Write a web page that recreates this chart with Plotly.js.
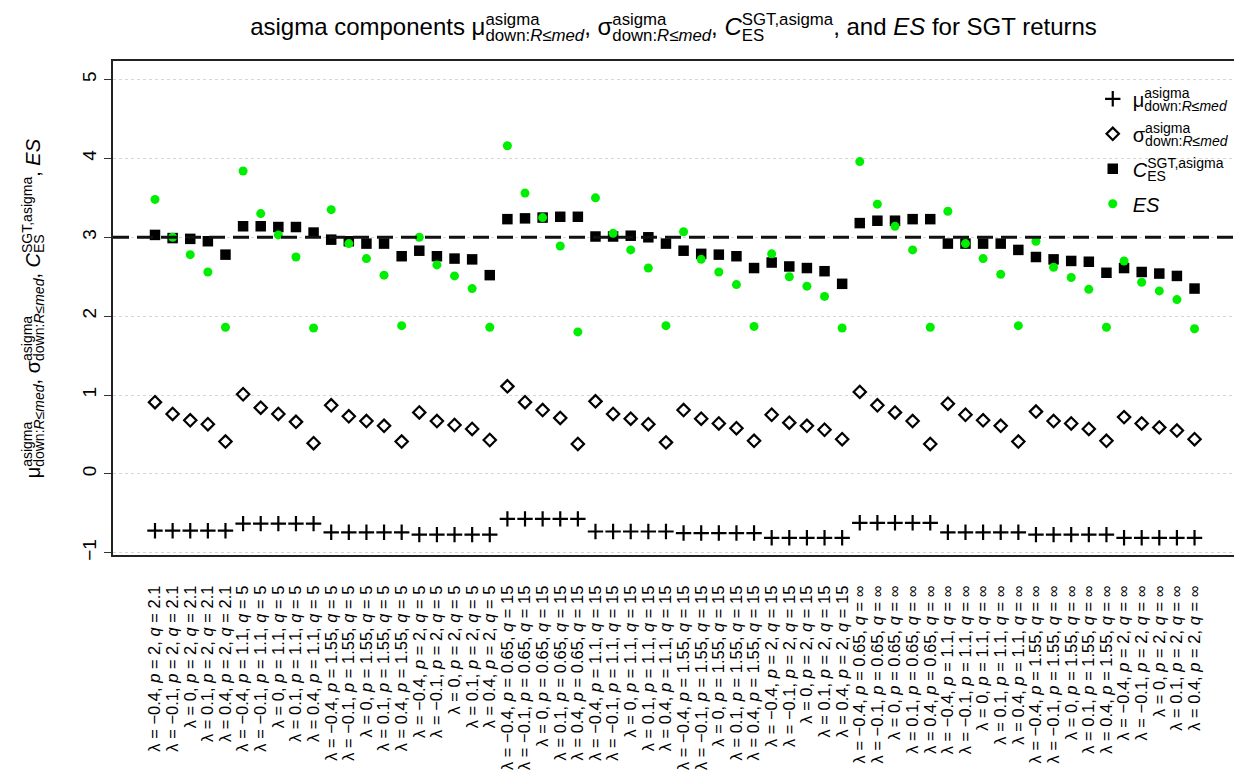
<!DOCTYPE html>
<html><head><meta charset="utf-8">
<script src="https://cdn.plot.ly/plotly-3.0.1.min.js"></script>
<style>html,body{margin:0;padding:0;background:#fff}</style>
</head><body>
<div id="chart" style="width:1234px;height:774px"></div>
<script>
// ---- data ----
const lambda_labels = ['\u22120.4', '\u22120.1', '0', '0.1', '0.4'];
const p_labels = ['2', '1.1', '1.55', '2', '0.65', '1.1', '1.55', '2', '0.65', '1.1', '1.55', '2'];
const q_labels = ['2.1', '5', '5', '5', '15', '15', '15', '15', '\u221e', '\u221e', '\u221e', '\u221e'];

const mu_down = [
  -0.72, -0.72, -0.72, -0.72, -0.72,
  -0.63, -0.63, -0.63, -0.63, -0.63,
  -0.74, -0.74, -0.74, -0.74, -0.74,
  -0.77, -0.77, -0.77, -0.77, -0.77,
  -0.57, -0.57, -0.57, -0.57, -0.57,
  -0.73, -0.73, -0.73, -0.73, -0.73,
  -0.75, -0.75, -0.75, -0.75, -0.75,
  -0.81, -0.81, -0.81, -0.81, -0.81,
  -0.62, -0.62, -0.62, -0.62, -0.62,
  -0.74, -0.74, -0.74, -0.74, -0.74,
  -0.77, -0.77, -0.77, -0.77, -0.77,
  -0.81, -0.81, -0.81, -0.81, -0.81
];
const sigma_down = [
  0.91, 0.76, 0.68, 0.63, 0.41,
  1.01, 0.84, 0.76, 0.66, 0.39,
  0.87, 0.73, 0.67, 0.61, 0.41,
  0.78, 0.67, 0.62, 0.57, 0.43,
  1.11, 0.91, 0.81, 0.71, 0.38,
  0.92, 0.76, 0.70, 0.63, 0.40,
  0.81, 0.70, 0.64, 0.58, 0.42,
  0.75, 0.65, 0.61, 0.56, 0.44,
  1.04, 0.87, 0.78, 0.67, 0.38,
  0.89, 0.75, 0.68, 0.61, 0.41,
  0.79, 0.67, 0.64, 0.57, 0.42,
  0.72, 0.64, 0.59, 0.55, 0.44
];
const c_es = [
  3.03, 2.99, 2.98, 2.95, 2.78,
  3.14, 3.14, 3.13, 3.13, 3.06,
  2.97, 2.95, 2.92, 2.92, 2.76,
  2.83, 2.76, 2.73, 2.72, 2.52,
  3.23, 3.24, 3.25, 3.26, 3.26,
  3.01, 3.01, 3.02, 3.00, 2.92,
  2.83, 2.79, 2.78, 2.76, 2.61,
  2.68, 2.63, 2.61, 2.57, 2.41,
  3.18, 3.21, 3.21, 3.23, 3.23,
  2.92, 2.92, 2.92, 2.92, 2.84,
  2.75, 2.72, 2.70, 2.69, 2.55,
  2.61, 2.56, 2.54, 2.51, 2.35
];
const es_vals = [
  3.48, 3.00, 2.78, 2.56, 1.86,
  3.84, 3.30, 3.03, 2.75, 1.85,
  3.35, 2.92, 2.73, 2.52, 1.88,
  3.00, 2.65, 2.51, 2.35, 1.86,
  4.16, 3.56, 3.25, 2.89, 1.80,
  3.50, 3.05, 2.84, 2.61, 1.88,
  3.07, 2.72, 2.56, 2.40, 1.87,
  2.79, 2.50, 2.38, 2.25, 1.85,
  3.96, 3.42, 3.14, 2.84, 1.86,
  3.33, 2.92, 2.73, 2.53, 1.88,
  2.95, 2.62, 2.49, 2.34, 1.86,
  2.70, 2.43, 2.32, 2.21, 1.84
];
const y_tick_vals = [-1, 0, 1, 2, 3, 4, 5];
const y_tick_text = ['\u22121', '0', '1', '2', '3', '4', '5'];
const ref_level = 3;

// ---- labels ----
const categories = [];
for (let g = 0; g < p_labels.length; g++) {
  for (let l = 0; l < lambda_labels.length; l++) {
    categories.push('\u03bb = ' + lambda_labels[l] + ', <i>p</i> = ' + p_labels[g] + ', <i>q</i> = ' + q_labels[g]);
  }
}
const x_idx = categories.map((_, i) => i + 1);

const MU = '\u03bc<sup>asigma</sup><sub>down:<i>R\u2264med</i></sub>';
const SG = '\u03c3<sup>asigma</sup><sub>down:<i>R\u2264med</i></sub>';
const CE = '<i>C</i><sup>SGT,asigma</sup><sub>ES</sub>';
const ESL = '<i>ES</i>';

const FONT = '"Liberation Sans", Arial, Helvetica, sans-serif';

const traces = [
  {x: x_idx, y: mu_down, type: 'scatter', mode: 'markers', name: MU, legendgroup: 'a',
   marker: {symbol: 'cross-thin', size: 11, color: 'black', line: {width: 2.2, color: 'black'}}},
  {x: x_idx, y: sigma_down, type: 'scatter', mode: 'markers', name: SG, legendgroup: 'b',
   marker: {symbol: 'diamond-open', size: 9.5, color: 'black', line: {width: 2.2, color: 'black'}}},
  {x: x_idx, y: c_es, type: 'scatter', mode: 'markers', name: CE, legendgroup: 'c',
   marker: {symbol: 'square', size: 10.5, color: 'black', line: {width: 0}}},
  {x: x_idx, y: es_vals, type: 'scatter', mode: 'markers', name: ESL, legendgroup: 'd',
   marker: {symbol: 'circle', size: 9, color: '#00ee00', line: {width: 0}}}
];

const layout = {
  width: 1234, height: 774,
  margin: {l: 113, r: 0, t: 61, b: 219, pad: 0, autoexpand: false},
  paper_bgcolor: 'white', plot_bgcolor: 'white',
  font: {family: FONT, color: 'black'},
  title: {
    text: 'asigma components ' + MU + ', ' + SG + ', ' + CE + ', and ' + ESL + ' for SGT returns',
    font: {size: 24, family: FONT, color: 'black'},
    x: 0.5, xref: 'paper', xanchor: 'center',
    y: 0.965, yref: 'container', yanchor: 'middle'
  },
  showlegend: true,
  legend: {
    x: 0.874, y: 0.963, xanchor: 'left', yanchor: 'top',
    bgcolor: 'rgba(0,0,0,0)', borderwidth: 0,
    font: {size: 20, family: FONT, color: 'black'},
    itemsizing: 'trace', itemwidth: 30, tracegroupgap: 6, traceorder: 'grouped'
  },
  xaxis: {
    range: [-1.384, 62.24], tickmode: 'array', tickvals: x_idx, ticktext: categories,
    tickangle: -90, tickfont: {size: 16.5, family: FONT, color: 'black'},
    showgrid: false, zeroline: false, showline: true, mirror: true,
    linecolor: '#222', linewidth: 2, ticks: '', ticklabelstandoff: 22, automargin: false
  },
  yaxis: {
    range: [-1.028, 5.235], tickmode: 'array', tickvals: y_tick_vals, ticktext: y_tick_text,
    tickangle: -90, tickfont: {size: 19, family: FONT, color: 'black'},
    ticks: 'outside', ticklen: 7, tickwidth: 1, tickcolor: '#333',
    showgrid: true, gridcolor: '#d6d6d6', griddash: 'dot', gridwidth: 1,
    zeroline: false, showline: true, mirror: true, linecolor: '#222', linewidth: 2, automargin: false
  },
  shapes: [{
    type: 'line', layer: 'above', xref: 'paper', x0: 0, x1: 1, yref: 'y', y0: ref_level, y1: ref_level,
    line: {color: '#111', width: 3, dash: '16px,8px'}
  }],
  annotations: [{
    text: MU + ', ' + SG + ', ' + CE + ', ' + ESL,
    xref: 'paper', yref: 'paper', x: -0.0715, y: 0.5, xanchor: 'center', yanchor: 'middle',
    textangle: -90, showarrow: false, font: {size: 20, family: FONT, color: 'black'}
  }]
};

// stack superscript directly above subscript (as in plotmath)
function stackScripts(root) {
  const spans = root.querySelectorAll('tspan');
  spans.forEach(function (t) {
    const st = t.getAttribute('style') || '';
    const dy = parseFloat(t.getAttribute('dy') || '0');
    if (st.indexOf('70%') < 0 || !(dy < 0)) return;
    const reset1 = t.nextElementSibling;
    if (!reset1) return;
    const sub = reset1.nextElementSibling;
    if (!sub) return;
    const st2 = sub.getAttribute('style') || '';
    const dy2 = parseFloat(sub.getAttribute('dy') || '0');
    if (st2.indexOf('70%') < 0 || !(dy2 > 0)) return;
    const reset2 = sub.nextElementSibling;
    const wSup = t.getComputedTextLength();
    const wSub = sub.getComputedTextLength();
    sub.setAttribute('dx', (-wSup).toFixed(2));
    if (reset2) reset2.setAttribute('dx', Math.max(0, wSup - wSub).toFixed(2));
  });
}

const gd = document.getElementById('chart');
Plotly.newPlot(gd, traces, layout, {staticPlot: true, displayModeBar: false}).then(function () {
  stackScripts(gd);
  gd.on('plotly_afterplot', function () { stackScripts(gd); });
});
</script>
</body></html>
